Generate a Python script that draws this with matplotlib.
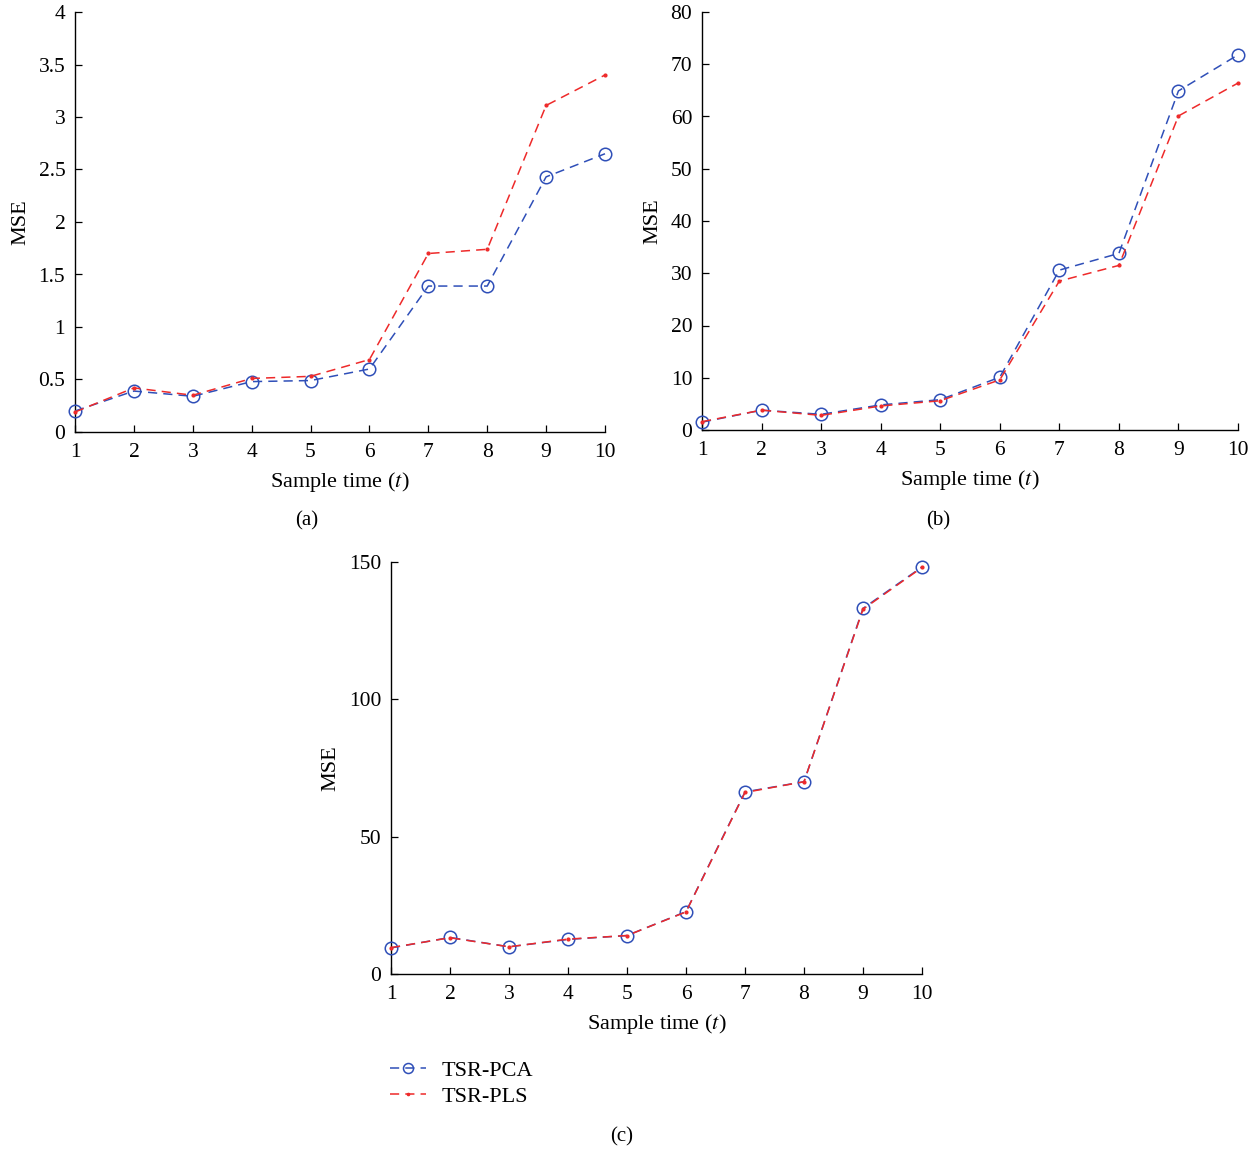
import numpy as np
import matplotlib
matplotlib.use("Agg")
import matplotlib.pyplot as plt

# Sample times and MSE values
t = [1, 2, 3, 4, 5, 6, 7, 8, 9, 10]

pca_a = [0.20, 0.39, 0.34, 0.48, 0.49, 0.60, 1.39, 1.39, 2.43, 2.65]
pls_a = [0.19, 0.42, 0.35, 0.51, 0.53, 0.69, 1.70, 1.74, 3.11, 3.40]

pca_b = [1.5, 3.8, 3.0, 4.8, 5.8, 10.1, 30.6, 33.8, 64.9, 71.8]
pls_b = [1.6, 3.8, 2.8, 4.6, 5.6, 9.6, 28.5, 31.5, 60.1, 66.4]

pca_c = [9.5, 13.3, 9.9, 12.6, 14.0, 22.7, 66.3, 70.0, 133.1, 148.2]
pls_c = [9.6, 13.2, 9.9, 12.7, 14.0, 22.6, 66.1, 70.0, 132.8, 148.0]

yticks_a = [0, 0.5, 1, 1.5, 2, 2.5, 3, 3.5, 4]
yticks_b = [0, 10, 20, 30, 40, 50, 60, 70, 80]
yticks_c = [0, 50, 100, 150]
series_names = ["TSR-PCA", "TSR-PLS"]

BLUE = "#2f4fb8"
RED = "#ee2a2a"

plt.rcParams["font.family"] = ["Liberation Serif", "DejaVu Serif"]
plt.rcParams["mathtext.fontset"] = "stix"

fig = plt.figure(figsize=(12.58, 11.51), dpi=100)


def draw_panel(rect, pca, pls, yticks, ylim, letter, letter_xy):
    ax = fig.add_axes(rect)
    ax.plot(t, pca, linestyle="--", color=BLUE, lw=1.1, marker="o",
            markersize=9, markerfacecolor="none", markeredgecolor=BLUE,
            markeredgewidth=1.1, dashes=(6, 4), label=series_names[0],
            clip_on=False, zorder=3)
    ax.plot(t, pls, linestyle="--", color=RED, lw=1.1, marker=".",
            markersize=4, dashes=(6, 4), label=series_names[1],
            clip_on=False, zorder=4)
    ax.set_xlim(1, 10)
    ax.set_ylim(*ylim)
    ax.set_xticks(t)
    ax.set_yticks(yticks)
    ax.set_yticklabels([f"{v:g}" for v in yticks])
    ax.spines["top"].set_visible(False)
    ax.spines["right"].set_visible(False)
    for s in ("left", "bottom"):
        ax.spines[s].set_linewidth(1.0)
    ax.tick_params(direction="in", length=5, width=0.9, labelsize=15.5)
    ax.tick_params(axis="x", pad=8)
    ax.tick_params(axis="y", pad=7)
    ax.set_xlabel(r"Sample time ($t$)", fontsize=16, labelpad=6)
    ax.set_ylabel("MSE", fontsize=16, labelpad=6)
    fig.text(letter_xy[0] / 1258, 1 - letter_xy[1] / 1151, letter,
             fontsize=15, ha="center", va="center")
    return ax


draw_panel([75 / 1258, 1 - 432 / 1151, 530 / 1258, 420 / 1151],
           pca_a, pls_a, yticks_a, (0, 4), "(a)", (307, 521))
draw_panel([702 / 1258, 1 - 430 / 1151, 536 / 1258, 418 / 1151],
           pca_b, pls_b, yticks_b, (0, 80), "(b)", (938, 521))
ax_c = draw_panel([391 / 1258, 1 - 974 / 1151, 531 / 1258, 412 / 1151],
                  pca_c, pls_c, yticks_c, (0, 150), "(c)", (622, 1137))

ax_c.legend(loc="upper left", bbox_to_anchor=(386 / 1258, 1 - 1056 / 1151),
            bbox_transform=fig.transFigure, frameon=False, fontsize=16,
            handlelength=1.6, handletextpad=0.7, labelspacing=0.25,
            markerscale=0.8, borderaxespad=0, borderpad=0.2)

fig.savefig("out.png", dpi=100)
